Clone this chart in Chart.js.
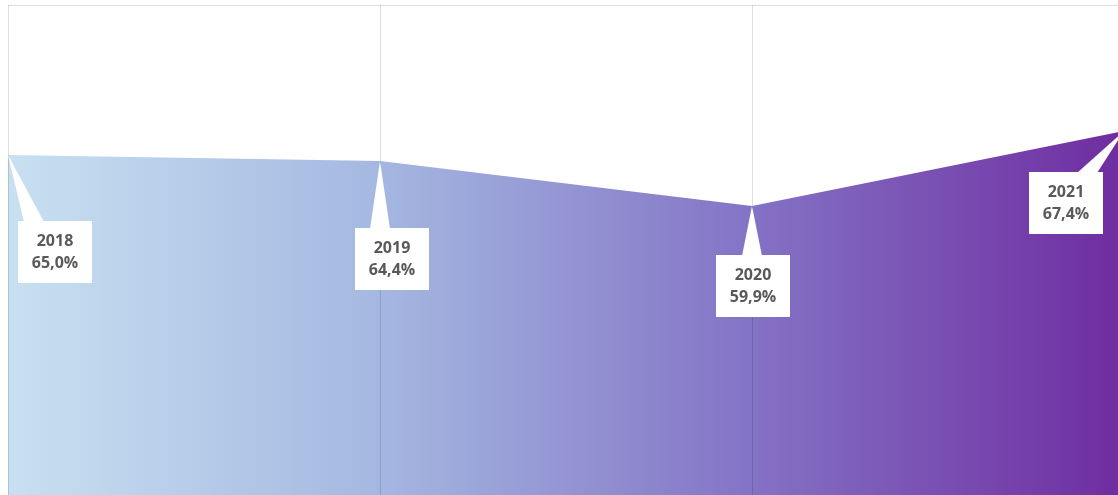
<!DOCTYPE html>
<html>
<head>
<meta charset="utf-8">
<script src="https://cdn.jsdelivr.net/npm/chart.js@4/dist/chart.umd.min.js"></script>
<style>
  html, body { margin: 0; padding: 0; background: #fff; overflow: hidden; }
  #wrap { width: 1130px; height: 495px; position: relative; }
</style>
</head>
<body>
<div id="wrap"><canvas id="chartArea"></canvas></div>
<script>
// Dados
const anos = ['2018', '2019', '2020', '2021'];
const valores = [65.0, 64.4, 59.9, 67.4];
const yMin = 31;
const yMax = 80;

const fmtPct = v => v.toLocaleString('pt-BR', { minimumFractionDigits: 1, maximumFractionDigits: 1 }) + '%';

// Degradê horizontal azul claro -> roxo
function gradiente(ctx) {
  const area = ctx.chart.chartArea;
  if (!area) return '#a4b6e0';
  const g = ctx.chart.ctx.createLinearGradient(area.left, 0, area.right, 0);
  g.addColorStop(0, '#c8e0f1');
  g.addColorStop(0.33, '#a5b8e1');
  g.addColorStop(0.66, '#8474c6');
  g.addColorStop(1, '#6f2ca0');
  return g;
}

// Grade vertical + borda, desenhada por cima da área
const gradePlugin = {
  id: 'grade',
  afterDatasetsDraw(chart) {
    const { ctx, chartArea: a, scales: { x } } = chart;
    ctx.save();
    ctx.strokeStyle = 'rgba(0,0,0,0.13)';
    ctx.lineWidth = 1;
    ctx.beginPath();
    anos.forEach((_, i) => {
      const px = Math.round(x.getPixelForValue(i)) + 0.5;
      ctx.moveTo(px, a.top);
      ctx.lineTo(px, a.bottom);
    });
    ctx.moveTo(a.left, a.top + 0.5);
    ctx.lineTo(a.right, a.top + 0.5);
    ctx.stroke();
    ctx.restore();
  }
};

// Rótulos tipo balão
const baloesPlugin = {
  id: 'baloes',
  afterDraw(chart, args, opts) {
    const { ctx } = chart;
    const meta = chart.getDatasetMeta(0);
    const w = opts.width, h = opts.height;
    ctx.save();
    meta.data.forEach((pt, i) => {
      const off = opts.offsets[i];
      const cx = pt.x + off[0], cy = pt.y + off[1];
      const left = cx - w / 2, top = cy - h / 2;
      const baseX = Math.min(Math.max(pt.x, left + 16), left + w - 16);
      ctx.fillStyle = '#ffffff';
      ctx.beginPath();
      ctx.moveTo(pt.x, pt.y);
      ctx.lineTo(baseX - 10, top + 1);
      ctx.lineTo(baseX + 10, top + 1);
      ctx.closePath();
      ctx.fill();
      ctx.fillRect(left, top, w, h);
      ctx.fillStyle = '#595959';
      ctx.font = 'bold 16px "Open Sans", "Noto Sans", sans-serif';
      ctx.textAlign = 'center';
      ctx.textBaseline = 'middle';
      ctx.fillText(anos[i], cx, cy - 11);
      ctx.fillText(fmtPct(valores[i]), cx, cy + 11);
    });
    ctx.restore();
  }
};

new Chart(document.getElementById('chartArea'), {
  type: 'line',
  data: {
    labels: anos,
    datasets: [{
      data: valores,
      fill: 'start',
      backgroundColor: gradiente,
      borderWidth: 0,
      borderColor: 'rgba(0,0,0,0)',
      pointRadius: 0,
      tension: 0
    }]
  },
  options: {
    responsive: true,
    maintainAspectRatio: false,
    animation: false,
    layout: { padding: { left: 8, right: 6, top: 5, bottom: 0 } },
    scales: {
      x: { display: false, offset: false },
      y: { display: false, min: yMin, max: yMax }
    },
    plugins: {
      legend: { display: false },
      tooltip: { enabled: false },
      baloes: {
        width: 74,
        height: 62,
        offsets: [[47, 97], [12, 98], [1, 80], [-58, 72]]
      }
    }
  },
  plugins: [gradePlugin, baloesPlugin]
});
</script>
</body>
</html>
